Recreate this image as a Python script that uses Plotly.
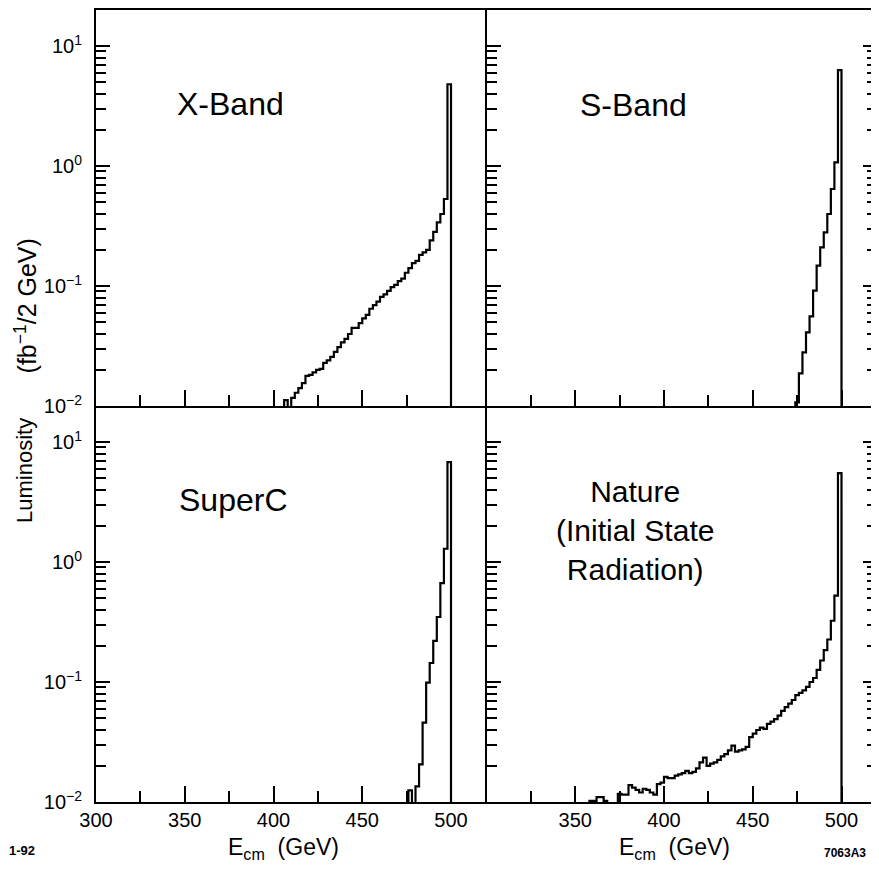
import plotly.graph_objects as go

# ---------------- data (luminosity per 2 GeV bin, fb^-1) ----------------
BIN_WIDTH = 2.0  # GeV

xband_start = 406
xband_vals = [0.0112, 0.0089, 0.0117, 0.0129, 0.0141,
              0.0155, 0.0178, 0.0182, 0.0191, 0.0200,
              0.0204, 0.0229, 0.0240, 0.0257, 0.0282,
              0.0309, 0.0339, 0.0363, 0.0398, 0.0447,
              0.0447, 0.0490, 0.0537, 0.0575, 0.0646,
              0.0692, 0.0741, 0.0813, 0.0851, 0.0912,
              0.0977, 0.102, 0.110, 0.115, 0.129,
              0.141, 0.155, 0.162, 0.182, 0.191,
              0.200, 0.240, 0.282, 0.339, 0.398,
              0.531, 4.8]

sband_start = 474
sband_vals = [0.0107, 0.0187, 0.0280, 0.0411, 0.0558, 0.0914, 0.148,
              0.210, 0.280, 0.398, 0.643, 1.07, 6.3]

superc_start = 476
superc_vals = [0.0125, 0.0079, 0.0135, 0.0206, 0.0459, 0.0989, 0.144,
               0.220, 0.348, 0.668, 1.29, 6.8]

nature_start = 358
nature_vals = [0.0102, 0.0102, 0.0110, 0.0110, 0.0102, 0.0079, 0.0079, 0.0079,
               0.0117, 0.0115, 0.0115, 0.0138, 0.0132, 0.0126, 0.0120, 0.0129,
               0.0126, 0.0120, 0.0115, 0.0141, 0.0145,
               0.0162, 0.0158, 0.0158, 0.0166, 0.0170, 0.0174, 0.0182, 0.0174,
               0.0178, 0.0191,
               0.0214, 0.0234, 0.0200, 0.0209, 0.0214,
               0.0224, 0.0240, 0.0251, 0.0269, 0.0295, 0.0263, 0.0269, 0.0275, 0.0288,
               0.0347, 0.0372, 0.0398, 0.0417, 0.0407, 0.0447, 0.0468, 0.0490, 0.0525,
               0.0575, 0.0617, 0.0661, 0.0708, 0.0776, 0.0813, 0.0851, 0.0912, 0.100, 0.108,
               0.126, 0.151, 0.184, 0.226, 0.324, 0.525, 5.50]

panel_names = ["X-Band", "S-Band", "SuperC", "Nature<br>(Initial State<br>Radiation)"]

x_tick_vals = [300, 350, 400, 450, 500]
x_tick_text_left = ["300", "350", "400", "450", "500"]
x_tick_text_right = ["", "350", "400", "450", "500"]
x_minor_vals = [325, 375, 425, 475]
y_tick_vals = [0.01, 0.1, 1, 10]
y_tick_text = ["10<sup>\u22122</sup>", "10<sup>\u22121</sup>", "10<sup>0</sup>", "10<sup>1</sup>"]

# ---------------- geometry ----------------
# The page body has an 8 px margin, so the figure is drawn 8 px smaller and
# all screen pixel positions are shifted by OFF.
OFF = 8
SW, SH = 879, 869                 # screen size
W, H = SW - OFF, SH - OFF         # figure size
PLOT_L, PLOT_R, PLOT_T, PLOT_B = 96, 879, 8, 802   # screen pixels of plot area
ML = PLOT_L - OFF
MR = SW - PLOT_R
MT = PLOT_T - OFF
MB = SH - PLOT_B
PW, PH = W - ML - MR, H - MT - MB
FONT = "Liberation Sans, Arial, sans-serif"


def px(xpix):
    return (xpix - PLOT_L) / PW


def py(ypix):
    return (PLOT_B - ypix) / PH


def step_xy(start, vals, floor=1e-3):
    edges = [start + BIN_WIDTH * i for i in range(len(vals) + 1)]
    xs = [edges[0]] + edges[:-1] + [edges[-1]]
    ys = [floor] + list(vals) + [floor]
    return xs, ys


series = [(xband_start, xband_vals), (sband_start, sband_vals),
          (superc_start, superc_vals), (nature_start, nature_vals)]

fig = go.Figure()
axis_ids = ["", "2", "3", "4"]
for (start, vals), aid in zip(series, axis_ids):
    xs, ys = step_xy(start, vals)
    fig.add_trace(go.Scatter(x=xs, y=ys, mode="lines", line_shape="hv",
                             line=dict(color="black", width=2.2),
                             xaxis="x" + aid, yaxis="y" + aid,
                             showlegend=False, hoverinfo="skip"))

y_minor = [m * 10.0 ** e for e in (-2, -1, 0, 1) for m in range(2, 10) if m * 10.0 ** e < 19]

x_domains = [[0, 0.5], [0.5, 1], [0, 0.5], [0.5, 1]]
y_domains = [[0.5, 1], [0.5, 1], [0, 0.5], [0, 0.5]]
layout = dict(width=W, height=H, margin=dict(l=ML, r=MR, t=MT, b=MB),
              paper_bgcolor="white", plot_bgcolor="white",
              font=dict(family=FONT, color="black", size=20))

for i, aid in enumerate(axis_ids):
    is_right = i in (1, 3)
    is_bottom = i in (2, 3)
    xa = dict(domain=x_domains[i], range=[300, 520], anchor="y" + aid,
              showline=True, linecolor="black", linewidth=2,
              mirror=(not is_bottom),
              ticks="inside", ticklen=16, tickwidth=2, tickcolor="black",
              tickmode="array", tickvals=x_tick_vals,
              ticktext=x_tick_text_right if is_right else x_tick_text_left,
              showticklabels=is_bottom, ticklabelstandoff=-1,
              tickfont=dict(size=20, family=FONT, color="black"),
              minor=dict(tickmode="array", tickvals=x_minor_vals, ticks="inside",
                         ticklen=11, tickwidth=2, tickcolor="black", showgrid=False),
              showgrid=False, zeroline=False, fixedrange=True)
    ya = dict(domain=y_domains[i], type="log", range=[-2, 1.3], anchor="x" + aid,
              showline=True, linecolor="black", linewidth=2,
              mirror="ticks" if is_right else False,
              ticks="inside", ticklen=14, tickwidth=2, tickcolor="black",
              tickmode="array", tickvals=y_tick_vals, ticktext=y_tick_text,
              showticklabels=not is_right, ticklabelstandoff=8,
              tickfont=dict(size=20, family=FONT, color="black"),
              minor=dict(tickmode="array", tickvals=y_minor, ticks="inside",
                         ticklen=10, tickwidth=2, tickcolor="black", showgrid=False),
              showgrid=False, zeroline=False, fixedrange=True)
    layout["xaxis" + aid] = xa
    layout["yaxis" + aid] = ya

fig.update_layout(**layout)

annots = []
label_pos = [(231, 102, 32), (635, 103, 32), (234, 499, 32), (636, 530, 30)]
for name, (lx, ly, fs) in zip(panel_names, label_pos):
    annots.append(dict(x=px(lx), y=py(ly), xref="paper", yref="paper", text=name,
                       showarrow=False, xanchor="center", yanchor="middle",
                       font=dict(size=fs, family=FONT, color="black")))

for cx in (284, 676):
    annots.append(dict(x=px(cx), y=py(849), xref="paper", yref="paper",
                       text="E<sub>cm</sub>\u00a0\u00a0(GeV)", showarrow=False,
                       xanchor="center", yanchor="middle",
                       font=dict(size=23, family=FONT, color="black")))

annots.append(dict(x=px(25), y=py(470), xref="paper", yref="paper", text="Luminosity",
                   showarrow=False, textangle=-90, xanchor="center", yanchor="middle",
                   font=dict(size=22, family=FONT, color="black")))
annots.append(dict(x=px(26), y=py(305), xref="paper", yref="paper",
                   text="(fb<sup>\u22121</sup>/2 GeV)",
                   showarrow=False, textangle=-90, xanchor="center", yanchor="middle",
                   font=dict(size=25, family=FONT, color="black")))
annots.append(dict(x=px(7), y=py(851), xref="paper", yref="paper", text="<b>1-92</b>",
                   showarrow=False, xanchor="left", yanchor="middle",
                   font=dict(size=13, family=FONT, color="black")))
annots.append(dict(x=px(870), y=py(853), xref="paper", yref="paper", text="<b>7063A3</b>",
                   showarrow=False, xanchor="right", yanchor="middle",
                   font=dict(size=12, family=FONT, color="black")))

fig.update_layout(annotations=annots)
fig.write_html("out.html")
